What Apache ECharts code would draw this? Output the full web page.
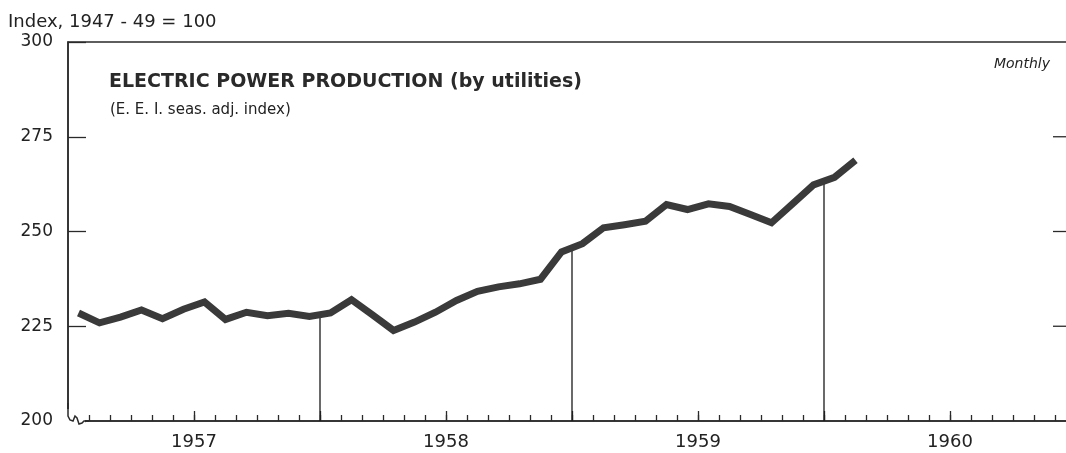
<!DOCTYPE html>
<html>
<head>
<meta charset="utf-8">
<script src="https://cdn.jsdelivr.net/npm/echarts@6/dist/echarts.min.js"></script>
<style>html,body{margin:0;padding:0;background:#fff}#c{width:1066px;height:453px}</style>
</head>
<body>
<div id="c"></div>
<script>
// Monthly values, Jan 1957 - Feb 1960 (E.E.I. seas. adj. index, 1947-49 = 100)
const values1957 = [228.5, 225.9, 227.4, 229.3, 227.0, 229.5, 231.4, 226.8, 228.7, 227.8, 228.4, 227.6];
const values1958 = [228.5, 232.0, 228.0, 223.9, 226.1, 228.7, 231.8, 234.2, 235.4, 236.2, 237.4, 244.6];
const values1959 = [246.8, 251.0, 251.8, 252.7, 257.1, 255.8, 257.3, 256.6, 254.5, 252.3, 257.3, 262.3];
const values1960 = [264.3, 268.8];
const yearLabels = ['1957', '1958', '1959', '1960'];
const yTicks = [200, 225, 250, 275, 300];
const rightTicks = [225, 250, 275];
// year-boundary drop lines (month index of boundary, value where line meets the curve)
const dropMonths = [12, 24, 36];
const dropValues = [227.8, 246.0, 263.5];

const allValues = [].concat(values1957, values1958, values1959, values1960);
const lineData = allValues.map((v, i) => [i + 0.5, v]);
const yearAt = {};
yearLabels.forEach((y, i) => { yearAt[6 + 12 * i] = y; });

const dropSeries = dropMonths.map((m, i) => ({
  type: 'line', xAxisIndex: 0, yAxisIndex: 0,
  data: [[m, yTicks[0]], [m, dropValues[i]]],
  symbol: 'none', silent: true, z: 1,
  lineStyle: { color: '#1a1a1a', width: 1.3 }
}));

const chart = echarts.init(document.getElementById('c'), null, { renderer: 'canvas' });
const font = 'DejaVu Sans';
chart.setOption({
  animation: false,
  backgroundColor: '#ffffff',
  title: [
    { text: 'Index, 1947 - 49 = 100', left: 3, top: 8, textStyle: { fontFamily: font, fontSize: 18, fontWeight: 'normal', color: '#222' } },
    { text: 'ELECTRIC POWER PRODUCTION (by utilities)', left: 104, top: 68, textStyle: { fontFamily: font, fontSize: 19, fontWeight: 'bold', color: '#2a2a2a' } },
    { text: '(E. E. I. seas. adj. index)', left: 105, top: 98, textStyle: { fontFamily: font, fontSize: 15, fontWeight: 'normal', color: '#222' } },
    { text: 'Monthly', right: 11, top: 52, textStyle: { fontFamily: font, fontSize: 14, fontStyle: 'italic', fontWeight: 'normal', color: '#222' } }
  ],
  grid: { left: 68, right: -10, top: 42, bottom: 32, outerBoundsMode: 'none', containLabel: false, show: true, borderColor: '#2a2a2a', borderWidth: 1.5, backgroundColor: 'transparent' },
  xAxis: [
    {
      type: 'value', min: 0, max: 48, interval: 1, position: 'bottom',
      axisLine: { show: true, lineStyle: { color: '#2a2a2a', width: 1.5 } },
      axisTick: { show: true, inside: true, length: 6, lineStyle: { color: '#2a2a2a', width: 1.3 } },
      axisLabel: { show: false },
      splitLine: { show: false }
    },
    {
      type: 'value', min: 0, max: 48, interval: 6, position: 'bottom',
      axisLine: { show: false },
      axisTick: { show: true, inside: true, length: 10, lineStyle: { color: '#2a2a2a', width: 1.3 } },
      axisLabel: {
        show: true, margin: 12, fontFamily: font, fontSize: 18, color: '#222',
        formatter: v => yearAt[v] || ''
      },
      splitLine: { show: false }
    }
  ],
  yAxis: [
    {
      type: 'value', min: 200, max: 300, interval: 25, position: 'left',
      axisLine: { show: true, lineStyle: { color: '#2a2a2a', width: 1.5 } },
      axisTick: { show: true, inside: true, length: 18, lineStyle: { color: '#2a2a2a', width: 1.3 } },
      axisLabel: { show: true, margin: 15, fontFamily: font, fontSize: 17, color: '#222', formatter: v => yTicks.indexOf(v) >= 0 ? String(v) : '' },
      splitLine: { show: false }
    }
  ],
  graphic: [
    { type: 'rect', z: 100, shape: { x: 63, y: 409, width: 22, height: 16 }, style: { fill: '#fff' } },
    { type: 'polyline', z: 101, shape: { points: [[68, 403], [68, 416], [70, 420], [73, 421], [75, 416], [77, 418], [79, 424], [82, 423], [84, 421], [89, 421]] }, style: { stroke: '#2a2a2a', lineWidth: 1.5, fill: null } }
  ],
  series: dropSeries.concat([
    {
      type: 'custom', xAxisIndex: 0, yAxisIndex: 0, silent: true, z: 2,
      data: rightTicks.map(v => [48, v]),
      renderItem: function (params, api) {
        const p = api.coord([api.value(0), api.value(1)]);
        return { type: 'line', shape: { x1: p[0] - 23, y1: p[1], x2: p[0], y2: p[1] }, style: { stroke: '#2a2a2a', lineWidth: 1.3 } };
      }
    },
    {
      type: 'line', xAxisIndex: 0, yAxisIndex: 0, data: lineData,
      symbol: 'none', z: 3, silent: true,
      lineStyle: { color: '#3a3a3a', width: 7, join: 'miter', cap: 'butt' }
    }
  ])
});
</script>
</body>
</html>
